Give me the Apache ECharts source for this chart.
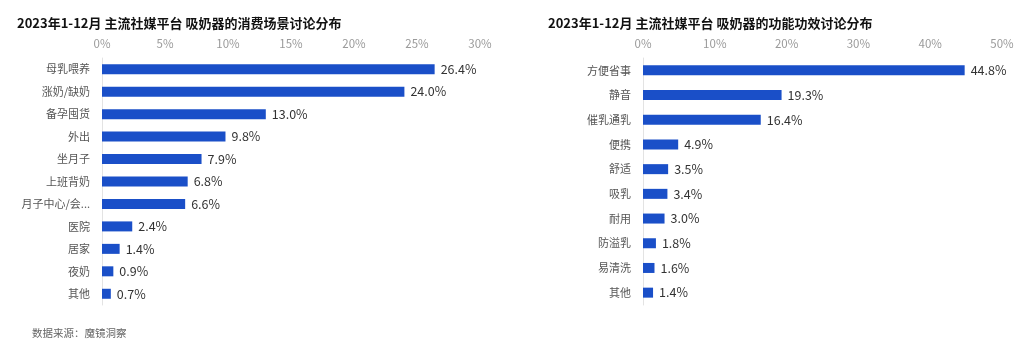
<!DOCTYPE html>
<html>
<head>
<meta charset="utf-8">
<script src="https://cdn.jsdelivr.net/npm/echarts@6/dist/echarts.min.js"></script>
<style>
html,body{margin:0;padding:0;background:#fff;}
#c{width:1024px;height:349px;}
</style>
</head>
<body>
<div id="c"></div>
<script>
const sceneCategories = ['母乳喂养','涨奶/缺奶','备孕囤货','外出','坐月子','上班背奶','月子中心/会所','医院','居家','夜奶','其他'];
const sceneValues = [26.4, 24.0, 13.0, 9.8, 7.9, 6.8, 6.6, 2.4, 1.4, 0.9, 0.7];
const sceneTicks = [0, 5, 10, 15, 20, 25, 30];
const funcCategories = ['方便省事','静音','催乳通乳','便携','舒适','吸乳','耐用','防溢乳','易清洗','其他'];
const funcValues = [44.8, 19.3, 16.4, 4.9, 3.5, 3.4, 3.0, 1.8, 1.6, 1.4];
const funcTicks = [0, 10, 20, 30, 40, 50];
const titleLeft = '2023年1-12月 主流社媒平台 吸奶器的消费场景讨论分布';
const titleRight = '2023年1-12月 主流社媒平台 吸奶器的功能功效讨论分布';
const sourceText = '数据来源：魔镜洞察';

const FONT = '"Microsoft YaHei","Noto Sans CJK SC",sans-serif';
const BAR = '#1a4fc8';

function xAxis(gridIndex, ticks){
  return {
    type:'value', gridIndex, position:'top',
    min: ticks[0], max: ticks[ticks.length-1], interval: ticks[1]-ticks[0],
    axisLine:{show:false}, axisTick:{show:false}, splitLine:{show:false},
    axisLabel:{color:'#9a9a9a', fontSize:11.5, fontFamily:FONT, margin:9, formatter: v => v + '%'}
  };
}
function yAxis(gridIndex, cats){
  return {
    type:'category', gridIndex, data:cats, inverse:true,
    axisLine:{show:true, lineStyle:{color:'#e3e3e3', width:1}},
    axisTick:{show:false},
    axisLabel:{color:'#555', fontSize:11, fontFamily:FONT, margin:12, width:70.5, overflow:'truncate', ellipsis:'...'}
  };
}
function series(idx, vals){
  return {
    type:'bar', xAxisIndex:idx, yAxisIndex:idx, data:vals, barWidth:10,
    itemStyle:{color:BAR},
    label:{show:true, position:'right', distance:6, color:'#333', fontSize:12.5, fontFamily:FONT, formatter: p => p.value.toFixed(1) + '%'}
  };
}

const chart = echarts.init(document.getElementById('c'), null, {renderer:'canvas'});
chart.setOption({
  backgroundColor:'#fff',
  animation:false,
  title:[
    {text:titleLeft, left:12, top:12, textStyle:{fontSize:13, fontWeight:'bold', color:'#111', fontFamily:FONT}},
    {text:titleRight, left:543, top:12, textStyle:{fontSize:13, fontWeight:'bold', color:'#111', fontFamily:FONT}},
    {text:sourceText, left:27, top:323, textStyle:{fontSize:10.5, fontWeight:'normal', color:'#666', fontFamily:FONT}}
  ],
  grid:[
    {left:102, width:378, top:58, height:247, containLabel:false},
    {left:643, width:359, top:58, height:247, containLabel:false}
  ],
  xAxis:[xAxis(0, sceneTicks), xAxis(1, funcTicks)],
  yAxis:[yAxis(0, sceneCategories), yAxis(1, funcCategories)],
  series:[series(0, sceneValues), series(1, funcValues)]
});
</script>
</body>
</html>
